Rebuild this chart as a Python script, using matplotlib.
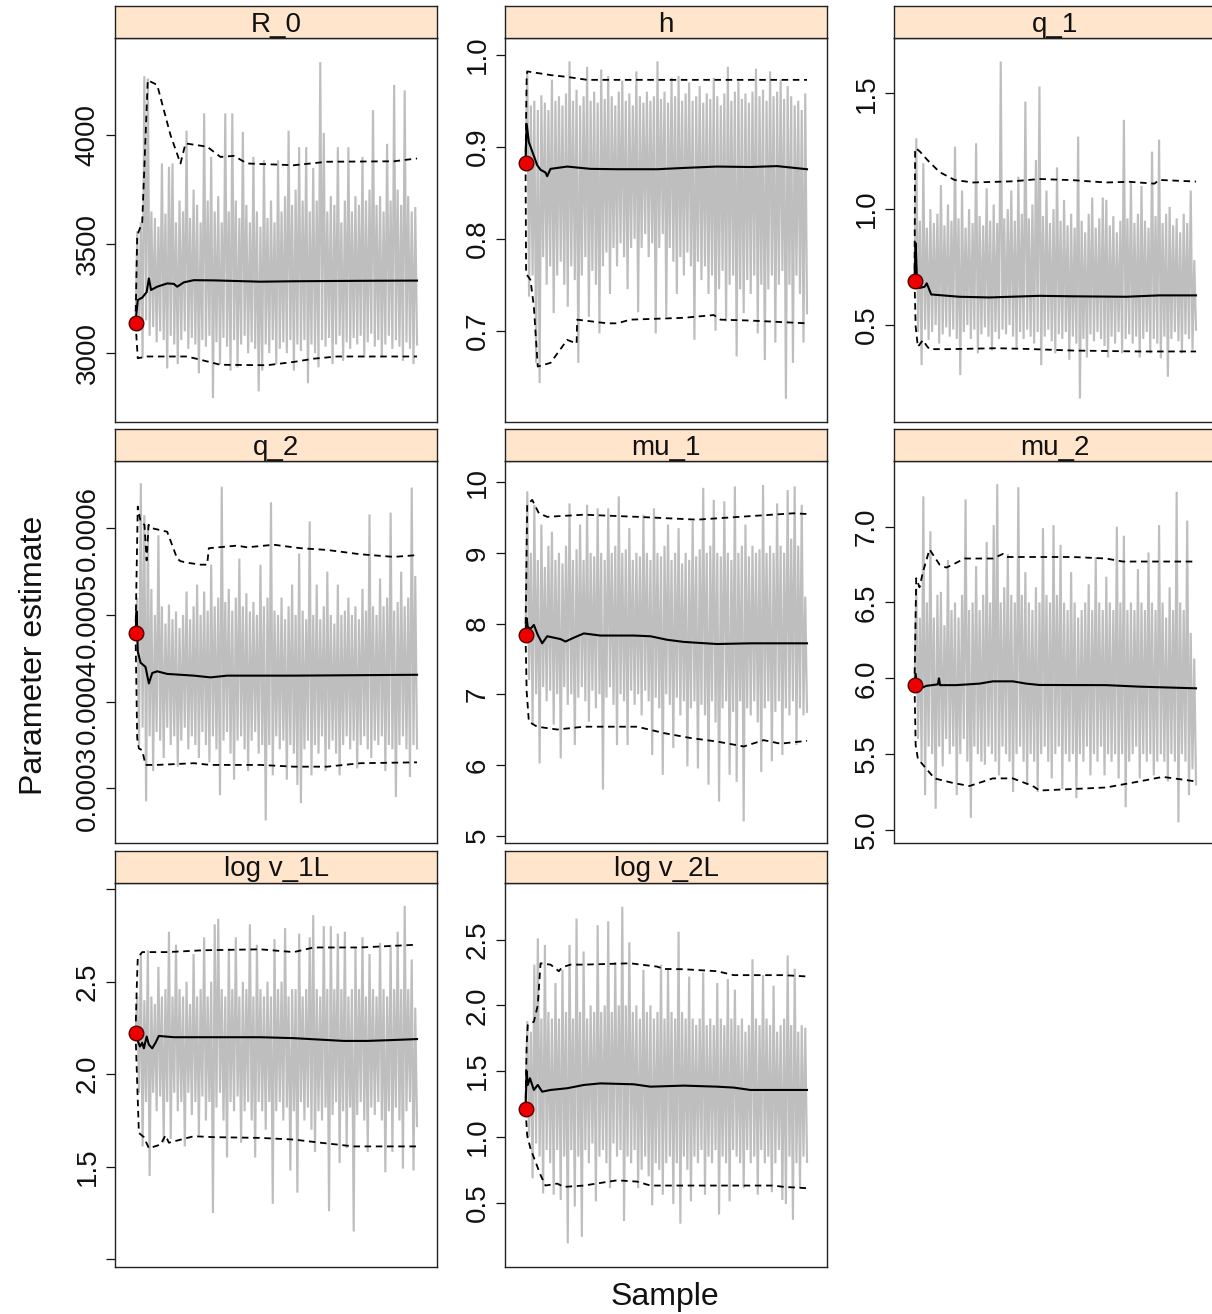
import numpy as np
import matplotlib
matplotlib.use("Agg")
import matplotlib.pyplot as plt

plt.rcParams['font.family'] = ['Liberation Sans', 'DejaVu Sans']

# ---------------- data ----------------
params = ['R_0', 'h', 'q_1', 'q_2', 'mu_1', 'mu_2', 'log v_1L', 'log v_2L']
n_samples = 1014
start_values = [3140, 0.882, 0.691, 4.79e-4, 7.84, 5.956, 2.225, 1.21]

# trace read as alternating local highs / lows along the chain
r0_hi = [3560, 3600, 4270, 4260, 3650, 3620, 3580, 3870, 3640, 3855, 3870, 3600, 3700, 3650, 4020, 3620,
         3750, 3680, 3600, 4100, 3700, 3900, 3650, 3720, 3600, 4100, 3650, 4100, 3700, 3620, 4015, 3680,
         3600, 3900, 3650, 3580, 3885, 3620, 3700, 3600, 3885, 3650, 3720, 4020, 3680, 3750, 3945, 3700,
         3945, 3650, 3850, 3700, 4335, 4010, 3650, 3720, 3680, 3945, 3600, 3700, 3945, 3650, 3720, 3680,
         3900, 3700, 3750, 4115, 3680, 3720, 3650, 3960, 3700, 4230, 3750, 3680, 4205, 3720, 3650, 3670]
r0_lo = [3100, 2977, 3150, 3080, 3120, 3050, 3100, 3060, 2930, 3080, 3040, 2950, 3060, 3100, 3020, 3070,
         3040, 2908, 3060, 3030, 3080, 2794, 3050, 2950, 3070, 3030, 2920, 3060, 2935, 3040, 3080, 3000,
         3050, 3020, 2825, 2920, 3040, 3000, 3060, 2950, 3020, 3050, 3000, 3060, 2920, 3040, 3010, 3060,
         2862, 3040, 3000, 2935, 3060, 3030, 3070, 2950, 3040, 3080, 2965, 3050, 3020, 3070, 3040, 3080,
         2980, 3050, 3090, 3030, 3060, 2980, 3040, 3080, 3020, 3060, 3030, 2965, 3050, 3020, 2950, 3040]

h_hi = [0.982, 0.945, 0.95, 0.94, 0.956, 0.948, 0.94, 0.973, 0.95, 0.955, 0.945, 0.958, 0.993, 0.95, 0.962, 0.945,
        0.955, 0.987, 0.95, 0.96, 0.948, 0.984, 0.952, 0.977, 0.955, 0.945, 0.96, 0.972, 0.95, 0.958, 0.945, 0.982,
        0.955, 0.948, 0.96, 0.95, 0.955, 0.993, 0.952, 0.96, 0.948, 0.975, 0.955, 0.977, 0.95, 0.958, 0.970, 0.95,
        0.955, 0.966, 0.948, 0.958, 0.952, 0.975, 0.955, 0.945, 0.958, 0.987, 0.95, 0.96, 0.971, 0.952, 0.958, 0.948,
        0.96, 0.985, 0.955, 0.962, 0.95, 0.982, 0.955, 0.96, 0.973, 0.952, 0.966, 0.955, 0.945, 0.95, 0.94, 0.958]
h_lo = [0.737, 0.76, 0.665, 0.643, 0.78, 0.75, 0.77, 0.719, 0.76, 0.775, 0.75, 0.726, 0.77, 0.755, 0.665, 0.76,
        0.78, 0.715, 0.765, 0.75, 0.697, 0.77, 0.785, 0.74, 0.79, 0.77, 0.795, 0.78, 0.745, 0.79, 0.80, 0.72,
        0.79, 0.805, 0.78, 0.795, 0.697, 0.79, 0.805, 0.715, 0.79, 0.775, 0.74, 0.78, 0.76, 0.785, 0.77, 0.69,
        0.775, 0.755, 0.77, 0.74, 0.76, 0.70, 0.745, 0.765, 0.71, 0.75, 0.76, 0.672, 0.745, 0.719, 0.755, 0.74,
        0.76, 0.697, 0.75, 0.668, 0.745, 0.76, 0.687, 0.75, 0.765, 0.626, 0.75, 0.665, 0.76, 0.74, 0.687, 0.719]

q1_hi = [1.306, 0.95, 1.198, 0.92, 1.00, 0.94, 0.98, 1.104, 0.93, 1.02, 0.95, 1.27, 0.96, 1.08, 0.92, 1.00,
         0.94, 1.284, 0.97, 0.93, 1.09, 0.95, 1.02, 0.94, 1.637, 0.96, 1.00, 1.08, 0.95, 1.14, 0.98, 1.464,
         0.96, 1.02, 1.212, 1.529, 0.97, 1.08, 0.94, 1.00, 1.18, 0.95, 1.04, 0.93, 0.98, 0.92, 1.313, 0.95,
         0.90, 0.98, 1.05, 0.92, 0.96, 1.05, 1.04, 0.93, 0.97, 0.90, 0.95, 1.385, 0.96, 1.12, 0.94, 0.98,
         1.10, 0.95, 0.92, 1.248, 0.97, 1.30, 0.94, 0.98, 1.01, 0.93, 0.96, 0.90, 0.98, 0.94, 1.08, 0.78]
q1_lo = [0.47, 0.327, 0.48, 0.435, 0.47, 0.50, 0.42, 0.46, 0.49, 0.45, 0.48, 0.44, 0.284, 0.47, 0.50, 0.44,
         0.48, 0.378, 0.46, 0.49, 0.45, 0.39, 0.47, 0.44, 0.48, 0.46, 0.50, 0.45, 0.40, 0.47, 0.44, 0.48,
         0.45, 0.42, 0.47, 0.327, 0.45, 0.48, 0.43, 0.378, 0.46, 0.44, 0.47, 0.35, 0.45, 0.42, 0.183, 0.44,
         0.36, 0.46, 0.43, 0.47, 0.44, 0.41, 0.36, 0.45, 0.42, 0.47, 0.378, 0.44, 0.46, 0.42, 0.45, 0.36,
         0.44, 0.47, 0.378, 0.44, 0.42, 0.356, 0.45, 0.277, 0.44, 0.47, 0.43, 0.378, 0.46, 0.44, 0.393, 0.48]

# q_2 values in units of 1e-4
q2_hi = [5.2, 6.52, 6.15, 6.04, 5.3, 5.0, 5.92, 5.1, 4.9, 5.12, 4.95, 5.04, 4.85, 5.0, 5.27, 4.95,
         5.1, 5.35, 5.0, 5.27, 5.05, 5.58, 5.1, 5.2, 6.48, 5.15, 5.3, 5.05, 5.2, 5.65, 5.1, 5.25,
         5.04, 5.15, 5.0, 5.58, 5.1, 5.2, 6.30, 5.05, 5.0, 5.2, 4.95, 5.1, 5.35, 5.0, 5.71, 5.05,
         4.95, 6.08, 5.0, 5.35, 4.95, 5.1, 5.5, 5.0, 4.9, 5.35, 5.0, 5.05, 5.2, 5.0, 5.1, 4.95,
         5.3, 5.05, 6.16, 5.1, 5.0, 5.42, 5.1, 5.2, 6.18, 5.05, 5.15, 5.5, 5.1, 5.2, 6.47, 5.45]
q2_lo = [3.5, 3.7, 2.85, 3.6, 3.2, 3.65, 3.55, 3.35, 3.7, 3.5, 3.6, 3.25, 3.55, 3.7, 3.45, 3.6,
         3.5, 3.35, 3.65, 3.5, 3.3, 3.6, 3.45, 2.92, 3.55, 3.65, 3.4, 3.1, 3.55, 3.6, 3.45, 3.2,
         3.55, 3.65, 3.4, 3.5, 2.63, 3.5, 3.15, 3.6, 3.45, 3.55, 3.1, 3.5, 3.4, 3.04, 2.83, 3.45,
         3.55, 3.15, 3.5, 3.4, 3.6, 3.2, 3.45, 3.55, 3.4, 3.15, 3.5, 3.6, 3.45, 3.55, 3.23, 3.5,
         3.6, 3.45, 3.35, 3.55, 3.5, 3.6, 3.2, 3.5, 3.45, 2.90, 3.5, 3.6, 3.45, 3.13, 3.5, 3.46]

mu1_hi = [9.87, 9.0, 9.68, 8.9, 9.4, 8.8, 9.1, 9.3, 8.9, 9.0, 8.85, 9.1, 9.7, 8.9, 9.05, 9.4,
          8.9, 9.68, 9.0, 8.95, 9.63, 9.0, 8.9, 9.63, 9.0, 9.1, 9.8, 9.0, 9.05, 9.35, 8.9, 9.0,
          8.95, 9.54, 9.0, 8.9, 9.63, 9.0, 8.95, 9.1, 9.4, 8.9, 9.0, 9.35, 8.85, 9.0, 8.9, 9.45,
          8.95, 9.05, 9.92, 9.0, 9.1, 9.75, 9.0, 8.95, 9.73, 9.0, 8.9, 9.94, 9.0, 9.1, 9.4, 8.95,
          9.1, 9.0, 9.05, 9.96, 9.0, 9.1, 9.0, 9.7, 9.1, 9.0, 9.89, 9.2, 9.94, 9.1, 9.68, 8.38]
mu1_lo = [7.2, 6.57, 7.0, 6.02, 7.1, 6.9, 7.05, 6.57, 7.0, 6.09, 7.1, 6.85, 7.0, 6.28, 6.95, 7.1,
          6.9, 6.61, 7.05, 6.8, 7.0, 5.65, 6.95, 7.1, 6.85, 6.28, 7.0, 6.9, 6.28, 7.05, 6.85, 7.0,
          6.7, 7.05, 6.9, 6.14, 6.95, 6.8, 5.86, 7.0, 6.85, 6.24, 6.95, 6.7, 6.9, 5.98, 6.8, 6.9,
          5.95, 6.85, 6.7, 5.72, 6.9, 6.6, 5.48, 6.8, 6.9, 5.86, 6.75, 5.76, 6.9, 5.2, 6.8, 6.7,
          6.9, 6.6, 5.9, 6.8, 6.9, 6.05, 6.75, 6.9, 6.14, 6.8, 6.7, 6.9, 6.28, 6.8, 6.7, 6.75]

mu2_hi = [6.59, 6.4, 7.2, 6.5, 6.97, 6.4, 6.55, 6.57, 6.35, 6.78, 6.45, 6.5, 6.4, 6.55, 7.18, 6.45,
          6.5, 6.74, 6.45, 6.55, 6.9, 6.5, 7.01, 7.28, 6.5, 6.6, 6.82, 6.55, 6.5, 7.26, 6.55, 6.7,
          6.5, 6.45, 6.6, 6.5, 6.99, 6.55, 6.5, 7.01, 6.55, 6.88, 6.5, 6.45, 6.7, 6.5, 6.4, 6.45,
          6.5, 6.62, 6.45, 6.8, 6.5, 6.45, 6.67, 6.5, 6.45, 7.0, 6.5, 6.94, 6.45, 6.5, 6.45, 6.72,
          6.5, 6.45, 6.83, 6.5, 6.45, 7.01, 6.5, 6.4, 6.6, 6.45, 7.23, 6.5, 6.45, 7.04, 6.3, 6.13]
mu2_lo = [5.6, 5.45, 5.23, 5.55, 5.5, 5.14, 5.55, 5.42, 5.6, 5.5, 5.55, 5.23, 5.5, 5.6, 5.45, 5.08,
          5.55, 5.5, 5.45, 5.43, 5.55, 5.5, 5.45, 5.36, 5.55, 5.5, 5.45, 5.25, 5.5, 5.55, 5.45, 5.3,
          5.5, 5.45, 5.25, 5.5, 5.55, 5.45, 5.34, 5.5, 5.55, 5.27, 5.5, 5.45, 5.5, 5.21, 5.5, 5.45,
          5.55, 5.36, 5.5, 5.45, 5.55, 5.36, 5.5, 5.45, 5.5, 5.34, 5.5, 5.15, 5.45, 5.5, 5.55, 5.34,
          5.5, 5.45, 5.5, 5.36, 5.45, 5.5, 5.45, 5.32, 5.5, 5.45, 5.05, 5.5, 5.45, 5.23, 5.4, 5.3]

v1_hi = [2.42, 2.65, 2.4, 2.67, 2.42, 2.38, 2.58, 2.42, 2.46, 2.77, 2.42, 2.7, 2.46, 2.42, 2.5, 2.38,
         2.65, 2.42, 2.46, 2.74, 2.42, 2.5, 2.81, 2.84, 2.46, 2.42, 2.68, 2.46, 2.74, 2.42, 2.5, 2.46,
         2.81, 2.42, 2.7, 2.46, 2.42, 2.5, 2.42, 2.73, 2.46, 2.5, 2.79, 2.42, 2.46, 2.46, 2.76, 2.42,
         2.46, 2.74, 2.86, 2.46, 2.42, 2.8, 2.46, 2.8, 2.46, 2.76, 2.46, 2.77, 2.42, 2.46, 2.68, 2.46,
         2.74, 2.42, 2.65, 2.46, 2.42, 2.71, 2.46, 2.42, 2.70, 2.46, 2.77, 2.46, 2.91, 2.46, 2.62, 2.36]
v1_lo = [1.9, 1.61, 1.85, 1.45, 1.9, 1.8, 1.88, 1.63, 1.85, 1.65, 1.9, 1.8, 1.85, 1.61, 1.9, 1.78,
         1.85, 1.67, 1.88, 1.75, 1.85, 1.25, 1.82, 1.9, 1.75, 1.55, 1.85, 1.8, 1.88, 1.63, 1.8, 1.85,
         1.75, 1.55, 1.85, 1.8, 1.7, 1.85, 1.30, 1.8, 1.85, 1.75, 1.82, 1.48, 1.8, 1.36, 1.85, 1.75,
         1.82, 1.7, 1.58, 1.8, 1.75, 1.82, 1.26, 1.78, 1.85, 1.52, 1.8, 1.60, 1.82, 1.15, 1.78, 1.85,
         1.75, 1.58, 1.82, 1.78, 1.85, 1.75, 1.47, 1.8, 1.58, 1.82, 1.75, 1.49, 1.8, 1.85, 1.48, 1.72]

v2_hi = [1.88, 1.8, 2.31, 2.51, 1.9, 2.46, 1.95, 1.9, 2.17, 1.9, 2.27, 1.95, 2.46, 1.9, 2.66, 1.95,
         2.41, 1.9, 2.0, 1.95, 2.61, 1.95, 2.0, 2.64, 1.95, 2.33, 2.0, 2.75, 2.0, 2.48, 1.95, 2.0,
         1.9, 2.27, 1.95, 2.0, 1.9, 1.95, 2.31, 1.9, 2.27, 1.95, 1.9, 2.56, 1.95, 1.9, 2.22, 1.9,
         1.85, 1.9, 2.25, 1.85, 1.9, 1.85, 2.17, 1.9, 1.85, 2.2, 1.9, 2.12, 1.85, 1.9, 1.8, 1.85,
         2.35, 1.9, 1.85, 2.23, 1.9, 1.85, 2.15, 1.8, 1.85, 1.9, 2.38, 1.85, 2.28, 1.8, 1.85, 1.83]
v2_lo = [1.0, 0.685, 0.95, 0.85, 0.57, 0.9, 0.8, 0.56, 0.9, 0.52, 0.85, 0.19, 0.9, 0.47, 0.85, 0.24,
         0.9, 0.8, 0.95, 0.51, 0.85, 0.9, 0.8, 0.61, 0.95, 0.85, 0.9, 0.36, 0.85, 0.8, 0.9, 0.61,
         0.75, 0.85, 0.7, 0.48, 0.8, 0.75, 0.56, 0.8, 0.85, 0.49, 0.8, 0.34, 0.85, 0.75, 0.51, 0.85,
         0.8, 0.9, 0.56, 0.85, 0.8, 0.9, 0.41, 0.85, 0.8, 0.51, 0.9, 0.85, 0.8, 0.61, 0.9, 0.8,
         0.85, 0.56, 0.9, 0.8, 0.85, 0.58, 0.8, 0.9, 0.52, 0.49, 0.85, 0.37, 0.8, 0.61, 0.85, 0.81]

# running mean and running 2.5% / 97.5% quantiles: (sample, value)
r0_mean = [(0, 3140), (8, 3244), (24, 3255), (40, 3280), (48, 3343), (56, 3290), (78, 3305), (114, 3320),
           (138, 3318), (150, 3305), (174, 3325), (210, 3335), (282, 3334), (450, 3328), (570, 3330),
           (810, 3332), (1014, 3333)]
r0_upper = [(0, 3140), (6, 3540), (24, 3600), (44, 4252), (78, 4230), (126, 4000), (162, 3870), (180, 3962),
            (258, 3947), (306, 3900), (354, 3905), (402, 3870), (570, 3862), (690, 3878), (930, 3880), (1014, 3893)]
r0_lower = [(0, 3140), (8, 2977), (42, 2985), (186, 2985), (234, 2970), (306, 2947), (474, 2945), (570, 2960),
            (642, 2975), (726, 2985), (1014, 2985)]

h_mean = [(0, 0.882), (4, 0.925), (12, 0.905), (24, 0.895), (42, 0.88), (54, 0.875), (72, 0.872), (78, 0.868),
          (90, 0.876), (150, 0.8785), (234, 0.876), (330, 0.8756), (474, 0.8756), (570, 0.877), (690, 0.8785),
          (810, 0.878), (906, 0.879), (1014, 0.8756)]
h_upper = [(0, 0.882), (4, 0.975), (6, 0.982), (90, 0.978), (150, 0.976), (222, 0.9728), (1014, 0.9728)]
h_lower = [(0, 0.882), (2, 0.762), (18, 0.755), (30, 0.726), (44, 0.661), (90, 0.665), (150, 0.690), (184, 0.686),
           (186, 0.712), (294, 0.708), (330, 0.708), (378, 0.712), (570, 0.714), (678, 0.717), (702, 0.712),
           (810, 0.711), (1014, 0.708)]

q1_mean = [(0, 0.691), (4, 0.853), (8, 0.72), (18, 0.66), (36, 0.665), (44, 0.68), (60, 0.632), (162, 0.622),
           (270, 0.619), (450, 0.626), (570, 0.624), (762, 0.622), (882, 0.628), (1014, 0.628)]
q1_upper = [(0, 0.691), (2, 1.25), (4, 1.263), (18, 1.25), (48, 1.21), (90, 1.16), (144, 1.126), (210, 1.115),
            (354, 1.12), (450, 1.13), (570, 1.125), (690, 1.115), (774, 1.118), (864, 1.11), (882, 1.126),
            (1014, 1.119)]
q1_lower = [(0, 0.691), (4, 0.493), (12, 0.406), (30, 0.435), (44, 0.41), (54, 0.396), (126, 0.396), (294, 0.40),
            (402, 0.397), (570, 0.39), (690, 0.388), (810, 0.386), (1014, 0.386)]

q2_mean = [(0, 4.788), (4, 5.04), (8, 4.58), (18, 4.45), (36, 4.4), (48, 4.21), (60, 4.33), (78, 4.35),
           (114, 4.32), (210, 4.30), (270, 4.28), (330, 4.30), (570, 4.30), (1014, 4.31)]
q2_upper = [(0, 4.788), (8, 6.25), (18, 6.08), (32, 6.04), (40, 5.63), (47, 6.04), (60, 6.0), (114, 5.96),
            (150, 5.65), (162, 5.62), (192, 5.6), (234, 5.58), (258, 5.58), (264, 5.77), (366, 5.8), (402, 5.78),
            (498, 5.81), (594, 5.77), (690, 5.75), (810, 5.7), (930, 5.67), (1014, 5.69)]
q2_lower = [(0, 4.788), (6, 3.58), (12, 3.46), (24, 3.44), (36, 3.27), (78, 3.27), (210, 3.29), (270, 3.27),
            (450, 3.27), (570, 3.25), (690, 3.25), (810, 3.29), (1014, 3.30)]

mu1_mean = [(0, 7.84), (4, 8.075), (8, 7.95), (18, 7.925), (30, 7.98), (44, 7.84), (60, 7.72), (78, 7.82),
            (126, 7.78), (144, 7.745), (174, 7.8), (210, 7.86), (270, 7.83), (390, 7.83), (450, 7.82),
            (510, 7.77), (570, 7.74), (690, 7.71), (810, 7.72), (1014, 7.72)]
mu1_upper = [(0, 7.84), (6, 9.68), (24, 9.75), (48, 9.56), (78, 9.51), (210, 9.54), (402, 9.51), (618, 9.47),
             (810, 9.52), (966, 9.56), (1014, 9.55)]
mu1_lower = [(0, 7.84), (4, 7.04), (12, 6.61), (42, 6.54), (114, 6.5), (210, 6.54), (402, 6.54), (498, 6.45),
             (594, 6.38), (690, 6.33), (786, 6.26), (858, 6.35), (918, 6.3), (1014, 6.34)]

mu2_mean = [(0, 5.956), (4, 6.03), (8, 5.95), (18, 5.93), (42, 5.95), (84, 5.96), (88, 6.0), (92, 5.955),
            (150, 5.955), (234, 5.965), (282, 5.98), (354, 5.98), (402, 5.965), (450, 5.956), (690, 5.955),
            (810, 5.945), (1014, 5.934)]
mu2_upper = [(0, 5.956), (6, 6.66), (18, 6.6), (30, 6.7), (54, 6.85), (90, 6.75), (114, 6.73), (138, 6.75),
             (180, 6.79), (282, 6.79), (318, 6.82), (330, 6.80), (570, 6.8), (690, 6.79), (750, 6.77), (1014, 6.77)]
mu2_lower = [(0, 5.956), (4, 5.56), (12, 5.47), (30, 5.43), (72, 5.34), (138, 5.31), (198, 5.29), (282, 5.34),
             (354, 5.34), (426, 5.29), (450, 5.26), (570, 5.27), (690, 5.28), (810, 5.32), (894, 5.35), (1014, 5.32)]

v1_mean = [(0, 2.225), (8, 2.18), (16, 2.15), (24, 2.17), (30, 2.14), (40, 2.204), (48, 2.16), (60, 2.14),
           (72, 2.17), (84, 2.207), (138, 2.2), (450, 2.2), (570, 2.195), (630, 2.19), (750, 2.18), (834, 2.18),
           (930, 2.185), (1014, 2.19)]
v1_upper = [(0, 2.225), (4, 2.45), (8, 2.63), (24, 2.66), (114, 2.66), (246, 2.67), (450, 2.675), (570, 2.66),
            (642, 2.685), (810, 2.685), (1014, 2.70)]
v1_lower = [(0, 2.225), (6, 1.95), (12, 1.683), (30, 1.66), (48, 1.60), (90, 1.62), (108, 1.67), (120, 1.63),
            (210, 1.665), (282, 1.66), (450, 1.656), (570, 1.647), (666, 1.63), (786, 1.61), (1014, 1.61)]

v2_mean = [(0, 1.21), (4, 1.5), (8, 1.395), (16, 1.446), (30, 1.357), (44, 1.395), (60, 1.344), (90, 1.357),
           (150, 1.37), (210, 1.395), (270, 1.407), (390, 1.40), (450, 1.382), (570, 1.39), (690, 1.382),
           (750, 1.375), (810, 1.357), (1014, 1.357)]
v2_upper = [(0, 1.21), (4, 1.7), (8, 1.85), (30, 1.876), (44, 2.0), (54, 2.32), (90, 2.31), (120, 2.26),
            (132, 2.29), (162, 2.31), (210, 2.31), (378, 2.32), (474, 2.295), (498, 2.277), (570, 2.275),
            (690, 2.26), (750, 2.23), (930, 2.23), (1014, 2.22)]
v2_lower = [(0, 1.21), (6, 1.01), (18, 0.91), (36, 0.81), (54, 0.71), (72, 0.63), (114, 0.645), (138, 0.62),
            (210, 0.63), (330, 0.67), (402, 0.66), (450, 0.63), (570, 0.63), (810, 0.63), (894, 0.63),
            (930, 0.62), (1014, 0.61)]

# y-axis ticks and labels per panel
yticks = [[3000, 3500, 4000],
          [0.7, 0.8, 0.9, 1.0],
          [0.5, 1.0, 1.5],
          [3e-4, 4e-4, 5e-4, 6e-4],
          [5, 6, 7, 8, 9, 10],
          [5.0, 5.5, 6.0, 6.5, 7.0],
          [1.0, 1.5, 2.0, 2.5, 3.0],
          [0.5, 1.0, 1.5, 2.0, 2.5]]
ytick_labels = [['3000', '3500', '4000'],
                ['0.7', '0.8', '0.9', '1.0'],
                ['0.5', '1.0', '1.5'],
                ['0.0003', '0.0004', '0.0005', '0.0006'],
                ['5', '6', '7', '8', '9', '10'],
                ['5.0', '5.5', '6.0', '6.5', '7.0'],
                ['', '1.5', '2.0', '2.5', ''],
                ['0.5', '1.0', '1.5', '2.0', '2.5']]
ylims = [(2686, 4444), (0.601, 1.018), (0.083, 1.737), (2.366e-4, 6.776e-4),
         (4.89, 10.30), (4.912, 7.433), (0.96, 3.035), (0.013, 2.933)]

his = [r0_hi, h_hi, q1_hi, q2_hi, mu1_hi, mu2_hi, v1_hi, v2_hi]
los = [r0_lo, h_lo, q1_lo, q2_lo, mu1_lo, mu2_lo, v1_lo, v2_lo]
scales = [1, 1, 1, 1e-4, 1, 1, 1, 1]
means = [r0_mean, h_mean, q1_mean, q2_mean, mu1_mean, mu2_mean, v1_mean, v2_mean]
uppers = [r0_upper, h_upper, q1_upper, q2_upper, mu1_upper, mu2_upper, v1_upper, v2_upper]
lowers = [r0_lower, h_lower, q1_lower, q2_lower, mu1_lower, mu2_lower, v1_lower, v2_lower]

# ---------------- layout ----------------
W, H = 1212, 1314
fig = plt.figure(figsize=(W / 100, H / 100), dpi=100)

col_left = [115, 505, 894]
panel_w = 322
row_top = [38.3, 461, 882.7]
row_bot = [421.7, 843.3, 1266.7]
strip_h = 32

STRIP_COL = '#FFE5CC'
GRAY = '#BEBEBE'
DASH = (0, (3.6, 2.6))


def fx(px):
    return px / W


def fy(py):
    return 1 - py / H


for k, name in enumerate(params):
    r, c = divmod(k, 3)
    left, top, bot = col_left[c], row_top[r], row_bot[r]
    ax = fig.add_axes([fx(left), fy(bot), panel_w / W, (bot - top) / H])
    sax = fig.add_axes([fx(left), fy(top), panel_w / W, strip_h / H])

    sc = scales[k]
    hi = np.array(his[k]) * sc
    lo = np.array(los[k]) * sc
    start = start_values[k]
    trace = np.empty(1 + 2 * len(hi))
    trace[0] = start
    trace[1::2] = hi
    trace[2::2] = lo
    xs = np.linspace(0, n_samples, len(trace))
    ax.plot(xs, trace, color=GRAY, lw=1.55, zorder=1, solid_joinstyle='miter')

    for pts in (uppers[k], lowers[k]):
        s = [p[0] for p in pts]
        v = [p[1] * sc for p in pts]
        ax.plot(s, v, color='black', lw=1.3, linestyle=DASH, zorder=2)
    s = [p[0] for p in means[k]]
    v = [p[1] * sc for p in means[k]]
    ax.plot(s, v, color='black', lw=1.5, zorder=3)

    ax.plot([0], [start], 'o', ms=10.5, mfc='#EE0000', mec='#550000', mew=1.0, zorder=4)

    ax.set_xlim(-74, 1086)
    ax.set_ylim(*ylims[k])
    ax.set_xticks([])
    ax.set_yticks(yticks[k])
    ax.set_yticklabels(ytick_labels[k], rotation=90, va='center', ha='right')
    ax.tick_params(axis='y', direction='out', length=6.5, width=0.9, pad=4.0,
                   labelsize=20, colors='#111111')
    for sp in ax.spines.values():
        sp.set_color('#222222')
        sp.set_linewidth(1.0)

    sax.set_facecolor(STRIP_COL)
    sax.set_xticks([])
    sax.set_yticks([])
    for sp in sax.spines.values():
        sp.set_color('#222222')
        sp.set_linewidth(1.0)
    sax.text(0.5, 0.2, name, transform=sax.transAxes, ha='center', va='baseline',
             fontsize=20, color='#111111')

fig.text(fx(665), fy(1305), 'Sample', ha='center', va='baseline', fontsize=23, color='#111111')
fig.text(fx(42), fy(655), 'Parameter estimate', rotation=90, rotation_mode='anchor',
         ha='center', va='baseline', fontsize=23, color='#111111')

fig.savefig('out.png', dpi=100)
